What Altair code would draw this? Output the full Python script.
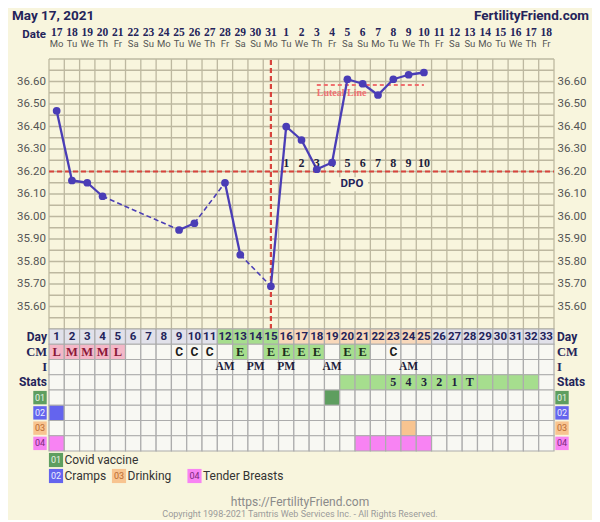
import altair as alt
import pandas as pd
import numpy as np

# ---------------- data ----------------
days = list(range(1, 34))
dates = list(range(17, 32)) + list(range(1, 19))
weekdays = (["Mo", "Tu", "We", "Th", "Fr", "Sa", "Su"] * 5)[:33]

temp_days = [1, 2, 3, 4, 9, 10, 12, 13, 15, 16, 17, 18, 19, 20, 21, 22, 23, 24, 25]
temp_vals = [36.47, 36.16, 36.15, 36.09, 35.94, 35.97, 36.15, 35.83, 35.69, 36.40,
             36.34, 36.21, 36.24, 36.61, 36.59, 36.54, 36.61, 36.63, 36.64]

y_ticks = [35.6, 35.7, 35.8, 35.9, 36.0, 36.1, 36.2, 36.3, 36.4, 36.5, 36.6]
coverline = 36.20
ovulation_day = 15
luteal_days = [18, 25]
luteal_value = 36.585
dpo_days = list(range(16, 26))
dpo_labels = [str(i) for i in range(1, 11)]

rows = ["Day", "CM", "I", "Stats", "01", "02", "03", "04"]
day_green = [12, 13, 14, 15]
day_peach = list(range(16, 26))
cm_days = [1, 2, 3, 4, 5, 9, 10, 11, 13, 15, 16, 17, 18, 20, 21, 23]
cm_vals = ["L", "M", "M", "M", "L", "C", "C", "C", "E", "E", "E", "E", "E", "E", "E", "C"]
i_days = [12, 14, 16, 19, 24]
i_vals = ["AM", "PM", "PM", "AM", "AM"]
stats_green = list(range(20, 33))
stats_days = [23, 24, 25, 26, 27, 28]
stats_vals = ["5", "4", "3", "2", "1", "T"]
sym_days = {"01": [19], "02": [1], "03": [24], "04": [1, 21, 22, 23, 24, 25]}
sym_names = {"01": "Covid vaccine", "02": "Cramps", "03": "Drinking", "04": "Tender Breasts"}

# ---------------- style ----------------
BG = "#f8f5dd"
GRID = "#bdb8a0"
LINE = "#4a3db6"
RED = "#d8443d"
NAVY = "#24245a"
CELL = "#f8f8f3"
DAYGRAY = "#e1e1ea"
GREEN = "#a6de8e"
PEACH = "#f8d8ba"
PINK = "#f4b8c8"
SYM_FILL = {"01": "#5e9e5f", "02": "#6464ee", "03": "#f8c490", "04": "#f883f3"}
SYM_TEXT = {"01": "#e8f4e8", "02": "#eeeeff", "03": "#b86a30", "04": "#7a2a7a"}
SERIF = "Liberation Serif"

X = alt.Scale(domain=[0.5, 33.5], range=[41, 546], nice=False, zero=False)
YT = alt.Scale(domain=[35.5, 36.7], range=[321, 51], nice=False, zero=False)
YR = alt.Scale(domain=rows, range=[321, 443], paddingInner=0, paddingOuter=0)

def xq(f):
    return alt.X(f, type="quantitative", scale=X, axis=None)

def yt(f):
    return alt.Y(f, type="quantitative", scale=YT, axis=None)

def yr(f):
    return alt.Y(f, type="nominal", scale=YR, axis=None)

layers = []

# ---------------- header ----------------
one = pd.DataFrame({"t": ["May 17, 2021"]})
layers.append(alt.Chart(one).mark_text(align="left", baseline="top", fontSize=13.5,
              fontWeight="bold", font="Roboto", color=NAVY).encode(
    x=alt.value(4), y=alt.value(0.5), text="t:N"))
ff = pd.DataFrame({"t": ["FertilityFriend.com"]})
layers.append(alt.Chart(ff).mark_text(align="right", baseline="top", fontSize=13.5,
              fontWeight="bold", font="Roboto", color=NAVY).encode(
    x=alt.value(581), y=alt.value(0.5), text="t:N"))
dl = pd.DataFrame({"t": ["Date"]})
layers.append(alt.Chart(dl).mark_text(align="right", baseline="middle", fontSize=11.5,
              fontWeight="bold", font="Roboto", color=NAVY).encode(
    x=alt.value(38), y=alt.value(26.5), text="t:N"))

hdr = pd.DataFrame({"day": days, "date": [str(d) for d in dates], "wd": weekdays})
layers.append(alt.Chart(hdr).mark_text(baseline="middle", fontSize=11.5, fontWeight="bold",
              font=SERIF, color=NAVY).encode(
    x=xq("day"), y=alt.value(24.5), text="date:N"))
layers.append(alt.Chart(hdr).mark_text(baseline="middle", fontSize=9.5,
              font="Roboto", color="#555555").encode(
    x=xq("day"), y=alt.value(35.5), text="wd:N"))

# ---------------- temperature grid ----------------
vgrid = pd.DataFrame({"x": np.arange(0.5, 34, 1.0), "lo": 35.5, "hi": 36.7})
layers.append(alt.Chart(vgrid).mark_rule(color=GRID, strokeWidth=1.3).encode(
    x=xq("x"), y=yt("lo"), y2="hi"))
hgrid = pd.DataFrame({"y": np.round(np.arange(35.5, 36.701, 0.05), 2), "a": 0.5, "b": 33.5})
layers.append(alt.Chart(hgrid).mark_rule(color=GRID, strokeWidth=1.3).encode(
    y=yt("y"), x=xq("a"), x2="b"))

# y tick labels both sides
yl = pd.DataFrame({"y": y_ticks, "t": [f"{v:.2f}" for v in y_ticks]})
layers.append(alt.Chart(yl).mark_text(align="right", baseline="middle", fontSize=11.5,
              font="Roboto", color="#555555").encode(
    x=alt.value(38), y=yt("y"), text="t:N"))
layers.append(alt.Chart(yl).mark_text(align="left", baseline="middle", fontSize=11.5,
              font="Roboto", color="#555555").encode(
    x=alt.value(549.5), y=yt("y"), text="t:N"))

# coverline & ovulation line
cov = pd.DataFrame({"y": [coverline], "a": [0.5], "b": [33.5]})
layers.append(alt.Chart(cov).mark_rule(color=RED, strokeWidth=2.2, strokeDash=[5, 3]).encode(
    y=yt("y"), x=xq("a"), x2="b"))
ov = pd.DataFrame({"x": [ovulation_day], "lo": [35.5], "hi": [36.7]})
layers.append(alt.Chart(ov).mark_rule(color=RED, strokeWidth=2.2, strokeDash=[5, 3]).encode(
    x=xq("x"), y=yt("lo"), y2="hi"))

# luteal line
lut = pd.DataFrame({"a": [luteal_days[0]], "b": [luteal_days[1]], "y": [luteal_value],
                    "t": ["Luteal Line"], "ty": [luteal_value - 0.036]})
layers.append(alt.Chart(lut).mark_rule(color="#ef6f6f", strokeWidth=2, strokeDash=[4, 3]).encode(
    y=yt("y"), x=xq("a"), x2="b"))
layers.append(alt.Chart(lut).mark_text(align="left", baseline="middle", fontSize=10,
              fontWeight="bold", font=SERIF, color="#f07272").encode(
    x=xq("a"), y=yt("ty"), text="t:N"))

# DPO box + labels
dpo_box = pd.DataFrame({"a": [18.9], "b": [21.35], "lo": [36.112], "hi": [36.175],
                        "x": [20.3], "y": [36.144], "t": ["DPO"]})
layers.append(alt.Chart(dpo_box).mark_rect(color=BG).encode(
    x=xq("a"), x2="b", y=yt("lo"), y2="hi"))
layers.append(alt.Chart(dpo_box).mark_text(baseline="middle", fontSize=11.5, fontWeight="bold",
              font="Roboto", color=NAVY).encode(
    x=xq("x"), y=yt("y"), text="t:N"))

# temperature line
seg = []
for k in range(len(temp_days) - 1):
    d0, d1 = temp_days[k], temp_days[k + 1]
    style = "solid" if d1 - d0 == 1 else "gap"
    seg.append({"seg": k, "day": d0, "temp": temp_vals[k], "style": style})
    seg.append({"seg": k, "day": d1, "temp": temp_vals[k + 1], "style": style})
segdf = pd.DataFrame(seg)
layers.append(alt.Chart(segdf).transform_filter("datum.style == 'gap'").mark_line(
    color=LINE, strokeWidth=1.6, strokeDash=[5, 3]).encode(
    x=xq("day"), y=yt("temp"), detail="seg:N"))
layers.append(alt.Chart(segdf).transform_filter("datum.style == 'solid'").mark_line(
    color=LINE, strokeWidth=2.3).encode(
    x=xq("day"), y=yt("temp"), detail="seg:N"))

dpo = pd.DataFrame({"day": dpo_days, "t": dpo_labels, "y": 36.24})
layers.append(alt.Chart(dpo).mark_text(baseline="middle", fontSize=12, fontWeight="bold",
              font=SERIF, color="#1e1e3c").encode(
    x=xq("day"), y=yt("y"), text="t:N"))

pts = pd.DataFrame({"day": temp_days, "temp": temp_vals})
layers.append(alt.Chart(pts).mark_circle(size=60, color=LINE, opacity=1).encode(
    x=xq("day"), y=yt("temp")))

# ---------------- table ----------------
cells = []
for r in rows:
    for d in days:
        f = CELL
        if r == "Day":
            f = GREEN if d in day_green else (PEACH if d in day_peach else DAYGRAY)
        elif r == "CM" and d in cm_days:
            v = cm_vals[cm_days.index(d)]
            f = PINK if v in ("L", "M") else (GREEN if v == "E" else CELL)
        elif r == "Stats" and d in stats_green:
            f = GREEN
        elif r in sym_days and d in sym_days[r]:
            f = SYM_FILL[r]
        cells.append({"row": r, "a": d - 0.5, "b": d + 0.5, "fill": f})
celldf = pd.DataFrame(cells)
layers.append(alt.Chart(celldf).mark_rect(stroke="#acacac", strokeWidth=1.2).encode(
    x=xq("a"), x2="b", y=yr("row"), fill=alt.Fill("fill:N", scale=None)))

dayrow = pd.DataFrame({"day": days, "row": "Day", "t": [str(d) for d in days]})
layers.append(alt.Chart(dayrow).mark_text(baseline="middle", fontSize=11.5, fontWeight="bold",
              font="Roboto", color=NAVY).encode(
    x=xq("day"), y=yr("row"), text="t:N"))

cmdf = pd.DataFrame({"day": cm_days, "row": "CM", "t": cm_vals})
cmdf["c"] = ["#8a1838" if v in ("L", "M") else ("#1a1a1a" if v == "C" else "#1c2e1c") for v in cm_vals]
layers.append(alt.Chart(cmdf).transform_filter("datum.t != 'C'").mark_text(
    baseline="middle", fontSize=12.5, fontWeight="bold", font=SERIF).encode(
    x=xq("day"), y=yr("row"), text="t:N", color=alt.Color("c:N", scale=None)))
layers.append(alt.Chart(cmdf).transform_filter("datum.t == 'C'").mark_text(
    baseline="middle", fontSize=12, fontWeight="bold", font="Roboto", color="#1a1a1a").encode(
    x=xq("day"), y=yr("row"), text="t:N"))

idf = pd.DataFrame({"day": i_days, "row": "I", "t": i_vals})
layers.append(alt.Chart(idf).mark_text(baseline="middle", fontSize=11.5, fontWeight="bold",
              font=SERIF, color="#1e1e3c").encode(
    x=xq("day"), y=yr("row"), text="t:N"))

sdf = pd.DataFrame({"day": stats_days, "row": "Stats", "t": stats_vals})
layers.append(alt.Chart(sdf).mark_text(baseline="middle", fontSize=12, fontWeight="bold",
              font=SERIF, color="#1e1e3c").encode(
    x=xq("day"), y=yr("row"), text="t:N"))

# row labels
rl = pd.DataFrame({"row": ["Day", "CM", "I", "Stats"],
                   "f": ["Roboto", SERIF, SERIF, "Roboto"]})
for side_x, al in [(39, "right"), (549, "left")]:
    for fnt in ["Roboto", SERIF]:
        layers.append(alt.Chart(rl).transform_filter(alt.datum.f == fnt).mark_text(
            align=al, baseline="middle", fontSize=12 if fnt == "Roboto" else 12.5,
            fontWeight="bold", font=fnt, color=NAVY).encode(
            x=alt.value(side_x), y=yr("row"), text="row:N"))

sym = pd.DataFrame({"row": list(sym_days.keys()),
                    "fill": [SYM_FILL[k] for k in sym_days],
                    "tc": [SYM_TEXT[k] for k in sym_days]})
for cx in [32, 554]:
    layers.append(alt.Chart(sym).mark_square(size=180, filled=True, opacity=1).encode(
        x=alt.value(cx), y=yr("row"), color=alt.Color("fill:N", scale=None)))
    layers.append(alt.Chart(sym).mark_text(baseline="middle", fontSize=9, font="Roboto").encode(
        x=alt.value(cx), y=yr("row"), text="row:N", color=alt.Color("tc:N", scale=None)))

# ---------------- legend ----------------
legend_pos = {"01": (48, 452), "02": (48, 468), "03": (111, 468), "04": (186.5, 468)}
for k, (lx, ly) in legend_pos.items():
    d = pd.DataFrame({"k": [k], "name": [sym_names[k]]})
    layers.append(alt.Chart(d).mark_square(size=200, filled=True, opacity=1,
                  color=SYM_FILL[k]).encode(x=alt.value(lx), y=alt.value(ly)))
    layers.append(alt.Chart(d).mark_text(baseline="middle", fontSize=9, font="Roboto",
                  color=SYM_TEXT[k]).encode(x=alt.value(lx), y=alt.value(ly), text="k:N"))
    layers.append(alt.Chart(d).mark_text(align="left", baseline="middle", fontSize=12,
                  font="Roboto", color="#333333").encode(
        x=alt.value(lx + 8.5), y=alt.value(ly), text="name:N"))

# ---------------- footer ----------------
f1 = pd.DataFrame({"t": ["https://FertilityFriend.com"]})
layers.append(alt.Chart(f1).mark_text(baseline="middle", fontSize=12, font="Roboto",
              color="#8a8a8a").encode(x=alt.value(292), y=alt.value(494), text="t:N"))
f2 = pd.DataFrame({"t": ["Copyright 1998-2021 Tamtris Web Services Inc. - All Rights Reserved."]})
layers.append(alt.Chart(f2).mark_text(baseline="middle", fontSize=9, font="Roboto",
              color="#9a9a9a").encode(x=alt.value(292), y=alt.value(506), text="t:N"))

chart = alt.layer(*layers).resolve_scale(y="independent").properties(
    width=584, height=512, autosize=alt.AutoSizeParams(type="none"), padding=0,
    background=BG,
).configure_view(strokeWidth=0)

chart.save("out.html", embed_options={"renderer": "svg", "actions": False})
